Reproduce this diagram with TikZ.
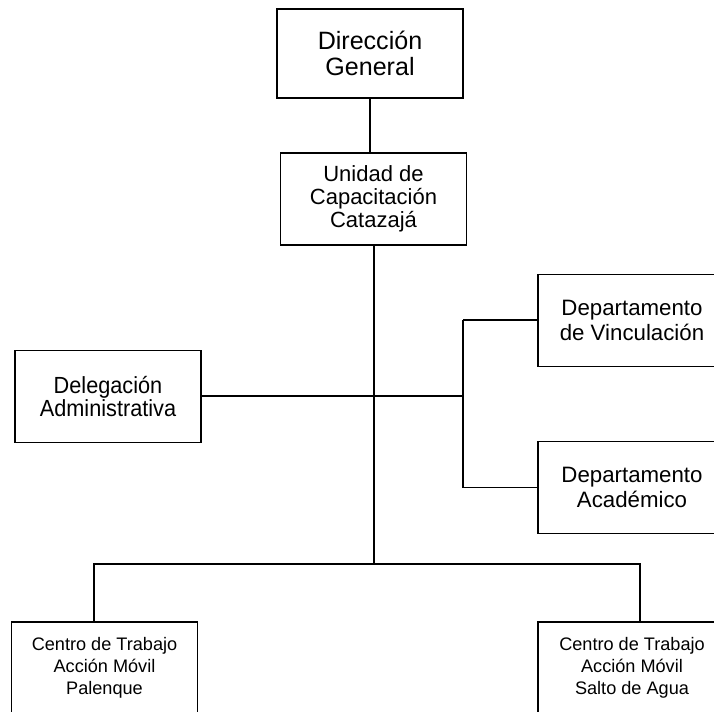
\documentclass[tikz,border=0pt]{standalone}
\usepackage{fontspec}
\setmainfont{Liberation Sans}
\newfontfamily\narrowsans[FakeStretch=0.93]{Liberation Sans}
\usetikzlibrary{calc}
\tikzset{
    unit/.style={draw, line width=1.1pt, align=center, inner sep=0pt,
        minimum width=139.5pt, minimum height=69pt},
    titlefont/.style={font=\fontsize{18.8}{19.5}\selectfont},
    unitfont/.style={font=\fontsize{16.5}{17.3}\selectfont},
    deptfont/.style={font=\fontsize{16.7}{19.2}\selectfont},
    delefont/.style={font=\narrowsans\fontsize{17.5}{15.8}\selectfont},
    centrofont/.style={font=\fontsize{13.6}{16.3}\selectfont},
    thickline/.style={line width=1.5pt},
    thinline/.style={line width=0.8pt}
}

\begin{document}
\begin{tikzpicture}[x=0.75pt,y=-0.75pt]
\useasboundingbox (0,0) rectangle (714,712);
\clip (0,0) rectangle (714,712);
\node[unit,titlefont,minimum height=66.75pt] (dir) at (370,53.5) {Dirección\\General};
\node[unit,unitfont] (uni) at (373.5,199) {Unidad de\\Capacitación\\Catazajá};
\node[unit,delefont] (del) at (108,396.5) {Delegación\\Administrativa};
\node[unit,deptfont,minimum width=141pt] (vin) at (632,320.5) {Departamento\\de Vinculación};
\node[unit,deptfont,minimum width=141pt] (aca) at (632,487.5) {Departamento\\Académico};
\node[unit,centrofont] (pal) at (104.5,668) {Centro de Trabajo\\Acción Móvil\\Palenque};
\node[unit,centrofont,minimum width=141pt] (sal) at (632,668) {Centro de Trabajo\\Acción Móvil\\Salto de Agua};
\coordinate (fork) at (del.east -| 463,0);
\coordinate (hub) at (uni.south |- 0,564);
\coordinate (barL) at (94,564);
\coordinate (barR) at (640,564);
\draw[thinline] (dir.south) -- (dir.south |- uni.north);
\draw[thickline] (uni.south) -- (hub);
\draw[thickline] (del.east) -- (fork);
\draw[thickline] (vin.west) -- (vin.west -| fork);
\draw[thinline] (vin.west -| fork) |- (aca.west);
\draw[thickline] (barL |- pal.north) -- (barL) -- (barR) -- (barR |- sal.north);
\end{tikzpicture}
\end{document}
